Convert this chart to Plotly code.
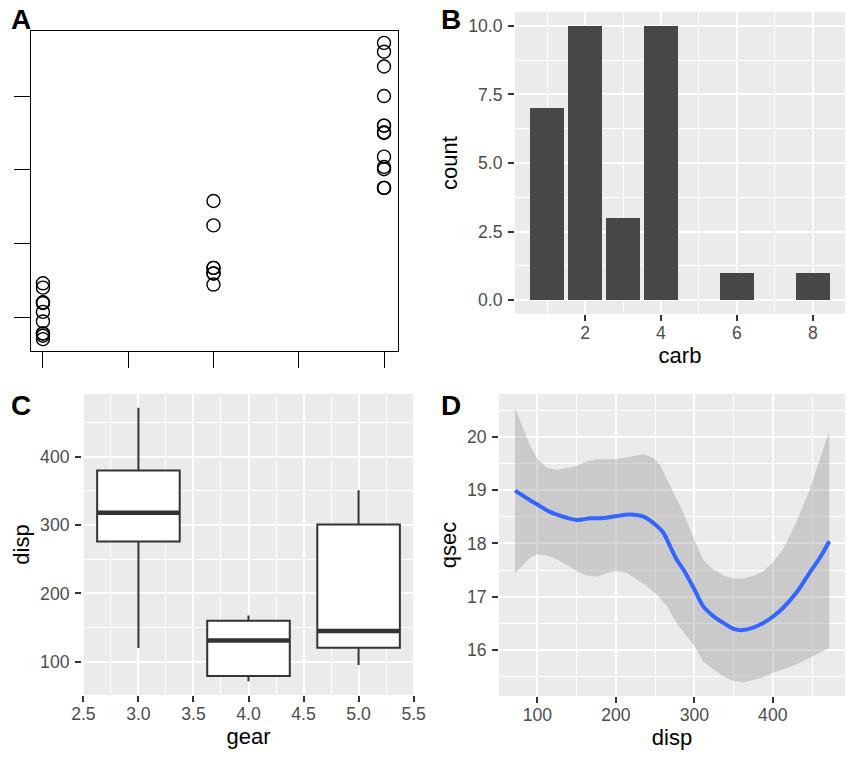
import numpy as np
import plotly.graph_objects as go

# ---- data (mtcars) ----
cyl = [6, 6, 4, 6, 8, 6, 8, 4, 4, 6, 6, 8, 8, 8, 8, 8, 8, 4, 4, 4, 4, 8, 8, 8, 8, 4, 4, 4, 8, 6, 8, 4]
disp = [160, 160, 108, 258, 360, 225, 360, 146.7, 140.8, 167.6, 167.6, 275.8, 275.8, 275.8, 472, 460,
        440, 78.7, 75.7, 71.1, 120.1, 318, 304, 350, 400, 79, 120.3, 95.1, 351, 145, 301, 121]
gear = [4, 4, 4, 3, 3, 3, 3, 4, 4, 4, 4, 3, 3, 3, 3, 3, 3, 4, 4, 4, 3, 3, 3, 3, 3, 4, 5, 5, 5, 5, 5, 4]

carb_levels = [1, 2, 3, 4, 6, 8]
carb_counts = [7, 10, 3, 10, 1, 1]

# loess fit of qsec ~ disp
fit_x = [71.5, 90.7, 100, 116, 133, 150, 167, 184, 200, 218, 235, 252, 260.5, 269, 277.5, 286, 300,
         311, 324, 337, 350, 362, 375, 388, 400, 413, 430, 447, 460, 472]
fit_y = [18.99, 18.81, 18.73, 18.59, 18.50, 18.44, 18.47, 18.475, 18.51, 18.54, 18.50, 18.33, 18.20,
         17.95, 17.70, 17.51, 17.14, 16.83, 16.64, 16.51, 16.40, 16.375, 16.42, 16.51, 16.625, 16.79,
         17.075, 17.45, 17.73, 18.04]
upper_x = [71.5, 82, 90.7, 100, 112, 125, 141.6, 150, 163, 175.6, 200, 218, 235, 248, 256, 265, 277.5,
           286, 300, 311, 324, 337, 350, 362, 375, 388, 400, 413, 430, 447, 460, 472]
upper_y = [20.54, 20.14, 19.83, 19.58, 19.42, 19.375, 19.42, 19.45, 19.54, 19.575, 19.575, 19.625, 19.67,
           19.60, 19.48, 19.20, 18.825, 18.575, 18.075, 17.70, 17.51, 17.40, 17.34, 17.34, 17.39, 17.48,
           17.64, 17.89, 18.39, 19.01, 19.575, 20.10]
lower_x = [71.5, 82, 90.7, 100, 112, 125, 141.6, 150, 163, 175.6, 188, 200, 214, 226.5, 239, 252, 265,
           277.5, 290, 300, 311, 324, 337, 350, 362, 375, 388, 400, 430, 472]
lower_y = [17.45, 17.60, 17.73, 17.79, 17.775, 17.70, 17.56, 17.48, 17.40, 17.375, 17.44, 17.48, 17.45,
           17.325, 17.20, 17.04, 16.825, 16.51, 16.26, 16.075, 15.79, 15.64, 15.51, 15.42, 15.40, 15.44,
           15.49, 15.575, 15.73, 16.04]

W, H = 857, 764
FONT = "Liberation Sans, Arial, sans-serif"
BG = "#EBEBEB"
TICKC = "#4D4D4D"


def dx(a, b):
    return [a / W, b / W]


def dy(top, bottom):
    return [1 - bottom / H, 1 - top / H]


fig = go.Figure()

# ---- Panel A: base-R style scatter ----
fig.add_trace(go.Scatter(x=cyl, y=disp, mode="markers", xaxis="x", yaxis="y",
                         marker=dict(symbol="circle-open", size=13, color="black",
                                     line=dict(width=1.4, color="black")),
                         showlegend=False))

# ---- Panel B: bar chart ----
fig.add_trace(go.Bar(x=carb_levels, y=carb_counts, width=0.9, marker_color="#474747",
                     marker_line_width=0, xaxis="x2", yaxis="y2", showlegend=False))

# ---- Panel C: boxplots (ggplot-style stats, quantile type 7) ----
disp_arr = np.array(disp)
gear_arr = np.array(gear)
for g in sorted(set(gear)):
    vals = disp_arr[gear_arr == g]
    q1, med, q3 = np.percentile(vals, [25, 50, 75])
    iqr = q3 - q1
    lo = float(vals[vals >= q1 - 1.5 * iqr].min())
    hi = float(vals[vals <= q3 + 1.5 * iqr].max())
    fig.add_trace(go.Box(x=[g], q1=[q1], median=[med], q3=[q3], lowerfence=[lo], upperfence=[hi],
                         width=0.75, boxpoints=False, whiskerwidth=0, fillcolor="white",
                         line=dict(color="#333333", width=2),
                         xaxis="x3", yaxis="y3", showlegend=False))
    fig.add_trace(go.Scatter(x=[g - 0.375, g + 0.375], y=[med, med], mode="lines",
                             line=dict(color="#333333", width=4.5),
                             xaxis="x3", yaxis="y3", showlegend=False, hoverinfo="skip"))

# ---- Panel D: smooth with ribbon ----
fig.add_trace(go.Scatter(x=upper_x + lower_x[::-1], y=upper_y + lower_y[::-1], fill="toself",
                         fillcolor="rgba(153,153,153,0.4)", line=dict(width=0), mode="lines",
                         xaxis="x4", yaxis="y4", showlegend=False, hoverinfo="skip"))
fig.add_trace(go.Scatter(x=fit_x, y=fit_y, mode="lines", line=dict(color="#3366FF", width=4,
                                                                   shape="spline"),
                         xaxis="x4", yaxis="y4", showlegend=False))

tickfont = dict(family=FONT, size=17.6, color=TICKC)
titlefont = dict(family=FONT, size=22, color="black")


def gg_axis(domain, rng, anchor, dtick, tick0, minor_dtick, title, fmt=None, standoff=4,
            labelstandoff=2):
    d = dict(domain=domain, range=rng, anchor=anchor, dtick=dtick, tick0=tick0,
             showgrid=True, gridcolor="white", gridwidth=2, zeroline=False,
             ticks="outside", ticklen=6, tickwidth=2, tickcolor="#333333",
             tickfont=tickfont, showline=False, automargin=False,
             ticklabelstandoff=labelstandoff,
             minor=dict(dtick=minor_dtick, tick0=tick0, showgrid=True, gridcolor="white",
                        gridwidth=1, ticks=""),
             title=dict(text=title, font=titlefont, standoff=standoff))
    if fmt:
        d["tickformat"] = fmt
    return d


layout = dict(
    width=W, height=H, margin=dict(l=0, r=0, t=0, b=0, autoexpand=False),
    paper_bgcolor="white", plot_bgcolor=BG, font=dict(family=FONT),
    showlegend=False, bargap=0,
    # Panel A
    xaxis=dict(domain=dx(31, 398), range=[3.86, 8.164], anchor="y", showgrid=False, zeroline=False,
               tickvals=[4, 5, 6, 7, 8], showticklabels=False, ticks="outside", ticklen=16,
               tickwidth=1.3, tickcolor="black", showline=True, linecolor="black", linewidth=1.3,
               mirror=True, automargin=False),
    yaxis=dict(domain=dy(31, 351), range=[55.1, 488], anchor="x", showgrid=False, zeroline=False,
               tickvals=[100, 200, 300, 400], showticklabels=False, ticks="outside", ticklen=16,
               tickwidth=1.3, tickcolor="black", showline=True, linecolor="black", linewidth=1.3,
               mirror=True, automargin=False),
    xaxis2=gg_axis(dx(515, 845), [0.155, 8.845], "y2", 2, 0, 1, "carb", labelstandoff=-3),
    yaxis2=gg_axis(dy(12, 314), [-0.5, 10.5], "x2", 2.5, 0, 1.25, "count", fmt=".1f"),
    xaxis3=gg_axis(dx(82, 415), [2.4875, 5.5125], "y3", 0.5, 0, 0.25, "gear", fmt=".1f",
                   labelstandoff=-3),
    yaxis3=gg_axis(dy(394, 695), [51.06, 492.05], "x3", 100, 0, 50, "disp"),
    xaxis4=gg_axis(dx(499, 845), [51.06, 492.05], "y4", 100, 0, 50, "disp", labelstandoff=-3),
    yaxis4=gg_axis(dy(394, 696), [15.14, 20.8], "x4", 1, 0, 0.5, "qsec"),
)
fig.update_layout(**layout)
# panel A has a white background
fig.add_shape(type="rect", xref="x domain", yref="y domain", x0=0, x1=1, y0=0, y1=1,
              fillcolor="white", line_width=0, layer="below")

labels = [("A", 9, 20), ("B", 439, 20), ("C", 9, 405), ("D", 439, 405)]
for txt, px, py in labels:
    fig.add_annotation(text="<b>%s</b>" % txt, x=px / W, y=1 - py / H, xref="paper", yref="paper",
                       xanchor="left", yanchor="middle", showarrow=False,
                       font=dict(family=FONT, size=28, color="black"))

fig.write_html("out.html")
